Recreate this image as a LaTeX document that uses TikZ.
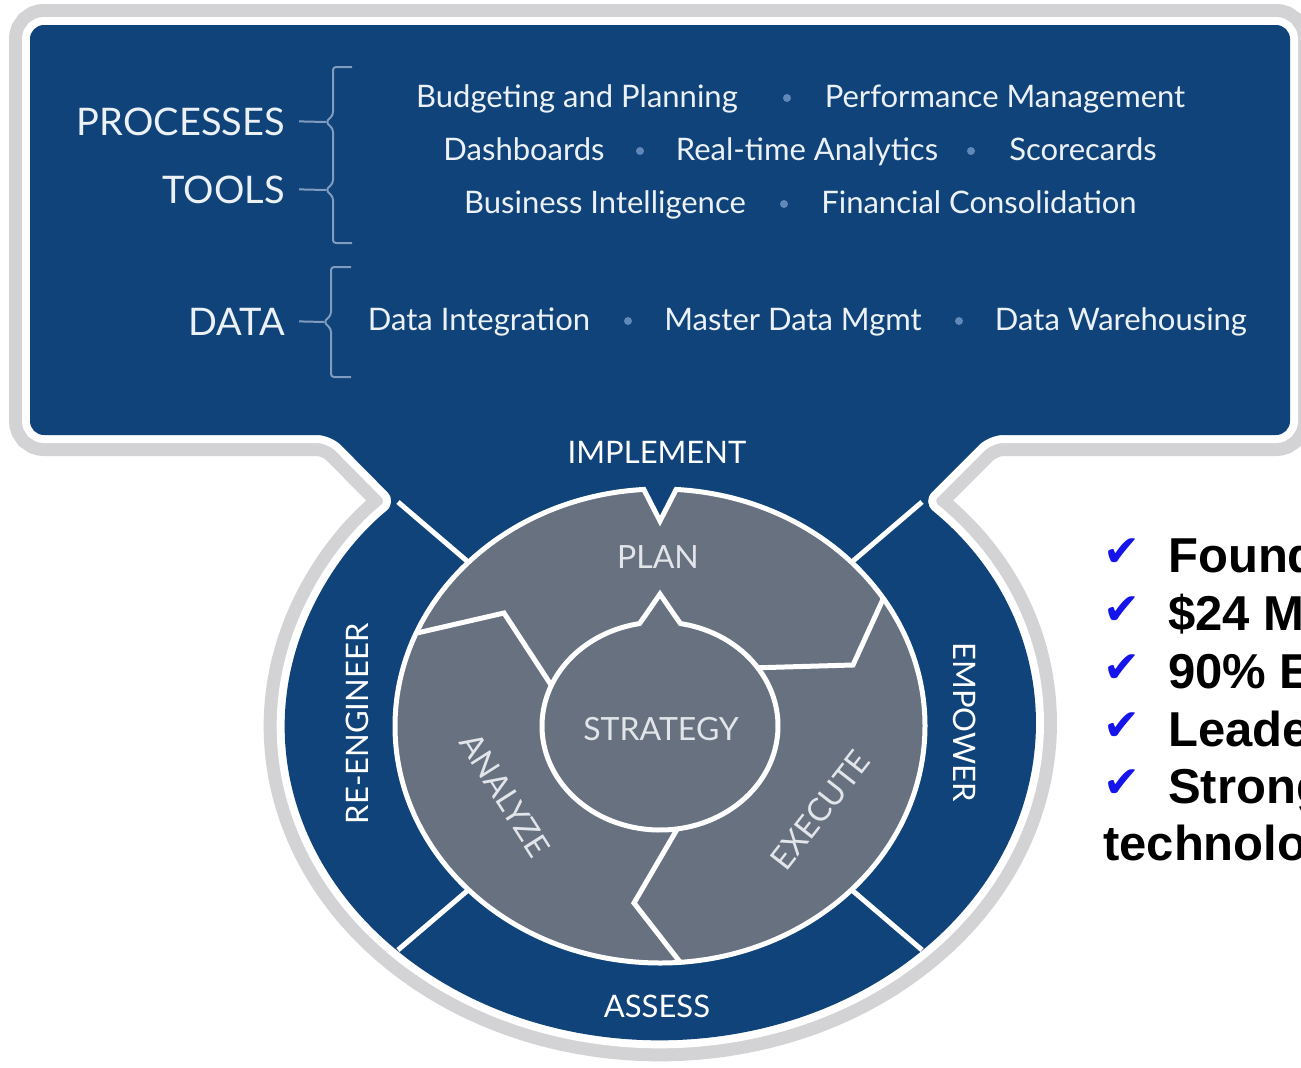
\documentclass[tikz,border=0pt]{standalone}
\usepackage{fontspec}
\setmainfont{Lato}
\newfontfamily\factfont{Liberation Sans}
\newfontfamily\tickfont{DejaVu Sans}
\usetikzlibrary{calc}

\definecolor{boxblue}{RGB}{16,67,121}
\definecolor{wheelgray}{RGB}{103,113,127}
\definecolor{framegray}{RGB}{211,211,213}
\definecolor{bracegray}{RGB}{128,156,190}
\definecolor{dotblue}{RGB}{96,136,184}
\definecolor{itemwhite}{RGB}{236,241,246}
\definecolor{wheeltext}{RGB}{226,229,233}
\definecolor{tickblue}{RGB}{20,20,235}

\begin{document}
\begin{tikzpicture}[x=1pt,y=-1pt,
    item/.style={text=itemwhite,font=\fontsize{31}{36}\selectfont,anchor=base,inner sep=0pt},
    layer/.style={text=itemwhite,font=\fontsize{38}{44}\selectfont,anchor=base east,inner sep=0pt},
    sepdot/.style={circle,fill=dotblue,inner sep=0pt,minimum size=8pt},
    brace/.style={draw=bracegray,line width=2pt,rounded corners=3pt},
    ringlbl/.style={text=white,font=\fontsize{31}{36}\selectfont,inner sep=0pt},
    wheellbl/.style={text=wheeltext,font=\fontsize{32}{36}\selectfont,inner sep=0pt},
    ringsep/.style={draw=white,line width=5pt},
    wheel/.style={fill=wheelgray,draw=white,line width=5pt},
    divider/.style={draw=white,line width=5pt,line join=miter},
    tick/.style={text=tickblue,font=\tickfont\fontsize{44}{44}\selectfont,anchor=base west,inner sep=0pt},
    fact/.style={font=\factfont\bfseries\fontsize{49}{56}\selectfont,anchor=base west,inner sep=0pt}]
    \useasboundingbox (0,0) rectangle (1301,1068);
    \fill[white] (0,0) rectangle (1301,1068);

    % wheel centres
    \coordinate (ctr) at (660,726);
    \coordinate (sctr) at (660,726);

    % blue panel, neck and outer ring
    \path[fill=boxblue,rounded corners=14pt,
        preaction={draw=framegray,line width=42pt},
        preaction={draw=white,line width=16pt}]
        (30,25) -- (1290,25) -- (1290,435) -- (989,435) -- (922,502)
        arc[start angle=-45.6,end angle=225.6,x radius=375,y radius=314]
        -- (331,435) -- (30,435) -- cycle;

    % ring separators
    \coordinate (cnw) at (398,502);
    \coordinate (cne) at (922,502);
    \coordinate (cse) at (922,950);
    \coordinate (csw) at (398,950);
    \foreach \c in {cnw,cne,cse,csw}
        \draw[ringsep] (ctr) -- (\c);

    % grey wheel with notch below IMPLEMENT
    \filldraw[wheel] ($(ctr)+(-86.5:265 and 237)$)
        arc[start angle=-86.5,end angle=266.5,x radius=265,y radius=237]
        -- (660,521) -- cycle;

    % arrow borders
    \draw[divider] (417,633) -- (504,613) -- (555,691);
    \draw[divider] (884,597) -- (853,665) -- (750,668);
    \draw[divider] (679,826) -- (634,903) -- (680,962);

    % strategy hub with its arrowhead
    \filldraw[wheel] ($(sctr)+(-80:118 and 104)$)
        arc[start angle=-80,end angle=260,x radius=118,y radius=104]
        -- (647,613) -- (660,594) -- (673,613) -- cycle;

    % layers on the left
    \node[layer] (procLbl) at (285,135) {PROCESSES};
    \node[layer] (toolLbl) at (285,203) {TOOLS};
    \node[layer] (dataLbl) at (285,335) {DATA};

    \coordinate (procTip) at (326,122);
    \coordinate (toolTip) at (326,190);
    \coordinate (dataTip) at (324,322);
    \draw[brace] (352,67) -- (333,67) -- (333,115) -- (procTip) -- (333,129)
        -- (333,183) -- (toolTip) -- (333,197) -- (333,243) -- (352,243);
    \draw[brace] (351,267) -- (331,267) -- (331,315) -- (dataTip) -- (331,329)
        -- (331,377) -- (351,377);
    \draw[brace] ([xshift=14pt]procLbl.east) -- (procTip);
    \draw[brace] ([xshift=14pt]toolLbl.east) -- (toolTip);
    \draw[brace] ([xshift=14pt]dataLbl.east) -- (dataTip);

    % processes and tools
    \node[item] (budget) at (577,107) {Budgeting and Planning};
    \node[sepdot] (d1) at (787,98) {};
    \node[item] (perf) at (1005,107) {Performance Management};
    \node[item] (dash) at (524,160) {Dashboards};
    \node[sepdot] (d2) at (640,151) {};
    \node[item] (rta) at (807,160) {Real-time Analytics};
    \node[sepdot] (d3) at (971,151) {};
    \node[item] (score) at (1083,160) {Scorecards};
    \node[item] (bi) at (605,213) {Business Intelligence};
    \node[sepdot] (d4) at (784,204) {};
    \node[item] (fincon) at (979,213) {Financial Consolidation};

    % data
    \node[item] (dint) at (479,330) {Data Integration};
    \node[sepdot] (d5) at (628,321) {};
    \node[item] (mdm) at (793,330) {Master Data Mgmt};
    \node[sepdot] (d6) at (959,321) {};
    \node[item] (dwh) at (1121,330) {Data Warehousing};

    % ring
    \node[ringlbl,anchor=base] (implement) at (657,463) {IMPLEMENT};
    \node[ringlbl,anchor=base] (assess) at (657,1017) {ASSESS};
    \node[ringlbl,rotate=90] (reeng) at (357,724) {RE-ENGINEER};
    \node[ringlbl,rotate=-90] (empower) at (965,722) {EMPOWER};

    % wheel
    \node[wheellbl,anchor=base] (plan) at (658,568) {PLAN};
    \node[wheellbl,anchor=base] (strategy) at (661,740) {STRATEGY};
    \node[wheellbl,rotate=-57.5] (analyze) at (505,795) {ANALYZE};
    \node[wheellbl,rotate=52] (execute) at (820,810) {EXECUTE};

    % facts, cut by the page edge
    \node[tick] (t1) at (1103,566) {✔};
    \node[tick] (t2) at (1103,624) {✔};
    \node[tick] (t3) at (1103,682) {✔};
    \node[tick] (t4) at (1103,740) {✔};
    \node[tick] (t5) at (1103,797) {✔};
    \node[fact] (f1) at (1168,572) {Found};
    \node[fact] (f2) at (1168,630) {\$24 M};
    \node[fact] (f3) at (1168,688) {90\% E};
    \node[fact] (f4) at (1168,746) {Leade};
    \node[fact] (f5) at (1168,803) {Strong};
    \node[fact] (f6) at (1103,860) {technolo};
\end{tikzpicture}
\end{document}
